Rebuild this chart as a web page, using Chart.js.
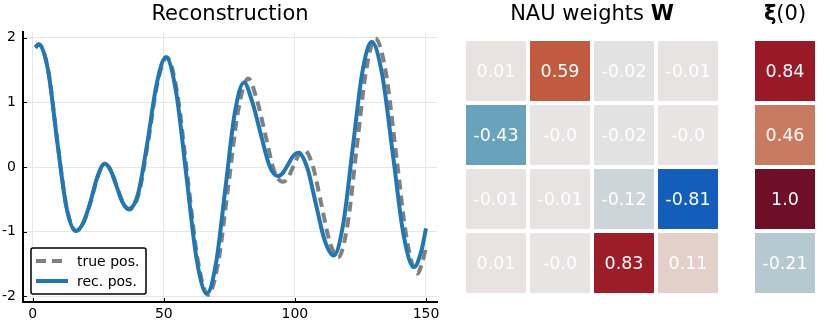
<!DOCTYPE html>
<html>
<head>
<meta charset="utf-8">
<script src="https://cdn.jsdelivr.net/npm/chart.js@4/dist/chart.umd.min.js"></script>
<style>
  body { margin: 0; background: #fff; font-family: "DejaVu Sans", sans-serif; }
  #wrap { position: relative; width: 830px; height: 324px; overflow: hidden; }
  canvas { position: absolute; top: 0; }
  .ttl { position: absolute; top: 1px; height: 24px; line-height: 24px; font-size: 21px; text-align: center; color: #000; }
</style>
</head>
<body>
<div id="wrap">
  <canvas id="recChart" width="450" height="324" style="left:0"></canvas>
  <canvas id="wChart" width="300" height="324" style="left:440px"></canvas>
  <canvas id="xiChart" width="90" height="324" style="left:740px"></canvas>
  <div class="ttl" style="left:0;width:460px">Reconstruction</div>
  <div class="ttl" style="left:492px;width:200px">NAU weights <b>W</b></div>
  <div class="ttl" style="left:735px;width:100px"><b>ξ</b>(0)</div>
</div>
<script>
// valeurs (extrema + points intermediaires)
const recT = [1, 2.3, 5.85, 9.4, 12.95, 16.5, 19.2, 21.95, 24.7, 27.4, 29.7, 32, 34.3, 36.6, 40.15, 43.7, 47.25, 50.8, 54.7, 58.6, 62.5, 66.4, 69.95, 73.5, 77.05, 80.6, 83.8, 87.05, 90.3, 93.5, 95.45, 97.4, 99.35, 101.3, 104.7, 108.05, 111.4, 114.8, 118.4, 122.05, 125.7, 129.3, 133.3, 137.35, 141.4, 145.4, 148.3, 150];
const recPos = [1.85, 1.90, 1.50, 0.38, -0.64, -0.99, -0.87, -0.55, -0.15, 0.05, -0.05, -0.30, -0.55, -0.65, -0.42, 0.37, 1.28, 1.70, 1.16, -0.13, -1.42, -1.96, -1.48, -0.33, 0.83, 1.31, 1.00, 0.50, 0.02, -0.14, -0.09, 0.04, 0.17, 0.22, -0.01, -0.58, -1.14, -1.37, -0.89, 0.29, 1.46, 1.94, 1.43, 0.20, -1.04, -1.55, -1.29, -0.95];

const trueT = [1, 2.3, 5.9, 9.45, 13, 16.6, 19.3, 22.05, 24.8, 27.5, 29.8, 32.15, 34.5, 36.8, 40.4, 43.95, 47.5, 51.1, 55.05, 59, 62.95, 66.9, 70.7, 74.55, 78.4, 82.2, 85.5, 88.8, 92.1, 95.4, 97.45, 99.5, 101.55, 103.6, 106.8, 110.05, 113.3, 116.5, 120.05, 123.6, 127.15, 130.7, 134.7, 138.7, 142.7, 146.7, 148.4, 150];
const truePos = [1.85, 1.90, 1.50, 0.38, -0.64, -0.99, -0.87, -0.55, -0.15, 0.05, -0.05, -0.31, -0.56, -0.66, -0.42, 0.37, 1.28, 1.70, 1.16, -0.14, -1.44, -1.98, -1.49, -0.31, 0.88, 1.37, 1.04, 0.49, -0.06, -0.23, -0.16, 0.02, 0.19, 0.26, 0.02, -0.57, -1.16, -1.40, -0.90, 0.30, 1.49, 1.99, 1.46, 0.17, -1.12, -1.65, -1.50, -1.25];

const xTicks = [0, 50, 100, 150];
const yTicks = [-2, -1, 0, 1, 2];

const wCols = ['1', '2', '3', '4'];
const nauW = [
    [0.01, 0.59, -0.02, -0.01],
    [-0.43, -0.0, -0.02, -0.0],
    [-0.01, -0.01, -0.12, -0.81],
    [0.01, -0.0, 0.83, 0.11]
];
const xi0 = [0.84, 0.46, 1.0, -0.21];

const FONT = '"DejaVu Sans", sans-serif';

// palette divergente (approx. balance)
const cmapStops = [
    [-1.0, [26, 48, 140]], [-0.81, [19, 93, 187]], [-0.43, [104, 163, 187]],
    [-0.21, [181, 201, 208]], [-0.12, [204, 213, 218]], [0.0, [232, 228, 227]],
    [0.11, [227, 208, 201]], [0.46, [201, 123, 97]], [0.59, [192, 91, 64]],
    [0.84, [154, 25, 38]], [1.0, [111, 14, 39]]
];

function cmap(v) {
    for (let i = 1; i < cmapStops.length; i++) {
        const [v1, c1] = cmapStops[i];
        const [v0, c0] = cmapStops[i - 1];
        if (v <= v1) {
            const t = (v - v0) / (v1 - v0);
            const c = c0.map((a, k) => Math.round(a + (c1[k] - a) * t));
            return `rgb(${c[0]},${c[1]},${c[2]})`;
        }
    }
    const c = cmapStops[cmapStops.length - 1][1];
    return `rgb(${c[0]},${c[1]},${c[2]})`;
}

function fmt(v) {
    if (Object.is(v, -0)) return '-0.0';
    return Number.isInteger(v) ? v.toFixed(1) : String(v);
}

// petits traits de graduation vers l'interieur + legende
const innerTicks = {
    id: 'innerTicks',
    afterDraw(chart) {
        const ctx = chart.ctx, a = chart.chartArea;
        const xs = chart.scales.x, ys = chart.scales.y;
        ctx.save();
        ctx.strokeStyle = '#000';
        ctx.lineWidth = 1;
        ctx.beginPath();
        xTicks.forEach(t => {
            const px = Math.round(xs.getPixelForValue(t)) + 0.5;
            ctx.moveTo(px, a.bottom); ctx.lineTo(px, a.bottom - 4);
        });
        yTicks.forEach(t => {
            const py = Math.round(ys.getPixelForValue(t)) + 0.5;
            ctx.moveTo(a.left, py); ctx.lineTo(a.left + 4, py);
        });
        ctx.stroke();

        // legende
        const bx = a.left + 8, by = a.bottom - 54, bw = 115, bh = 46;
        ctx.fillStyle = '#fff';
        ctx.strokeStyle = '#000';
        ctx.lineWidth = 1.5;
        ctx.beginPath();
        ctx.roundRect(bx, by, bw, bh, 2);
        ctx.fill();
        ctx.stroke();
        ctx.font = '14px ' + FONT;
        ctx.textBaseline = 'middle';
        chart.data.datasets.forEach((ds, i) => {
            const ly = by + 13 + i * 20;
            ctx.strokeStyle = ds.borderColor;
            ctx.lineWidth = ds.borderWidth;
            ctx.setLineDash(ds.borderDash || []);
            ctx.beginPath();
            ctx.moveTo(bx + 5, ly); ctx.lineTo(bx + 37, ly);
            ctx.stroke();
            ctx.setLineDash([]);
            ctx.fillStyle = '#000';
            ctx.fillText(ds.label, bx + 46, ly + 1);
        });
        ctx.restore();
    }
};

const cellText = {
    id: 'cellText',
    afterDatasetsDraw(chart) {
        const ctx = chart.ctx;
        ctx.save();
        ctx.fillStyle = '#fff';
        ctx.font = '17.5px ' + FONT;
        ctx.textAlign = 'center';
        ctx.textBaseline = 'middle';
        chart.data.datasets.forEach((ds, i) => {
            chart.getDatasetMeta(i).data.forEach((bar, j) => {
                ctx.fillText(fmt(ds.values[j]), bar.x, (bar.y + bar.base) / 2 + 1);
            });
        });
        ctx.restore();
    }
};

Chart.defaults.font.family = FONT;
Chart.defaults.color = '#000';

new Chart(document.getElementById('recChart'), {
    type: 'scatter',
    data: {
        datasets: [
            {
                label: 'true pos.',
                data: trueT.map((t, i) => ({ x: t, y: truePos[i] })),
                showLine: true,
                borderColor: '#808080',
                borderWidth: 4,
                borderDash: [10, 6],
                pointRadius: 0,
                cubicInterpolationMode: 'monotone',
                order: 1
            },
            {
                label: 'rec. pos.',
                data: recT.map((t, i) => ({ x: t, y: recPos[i] })),
                showLine: true,
                borderColor: '#1f77b4',
                borderWidth: 4,
                pointRadius: 0,
                cubicInterpolationMode: 'monotone',
                order: 0
            }
        ]
    },
    options: {
        responsive: false,
        animation: false,
        events: [],
        layout: { padding: { top: 32, right: 13, left: 0, bottom: 0 } },
        plugins: { legend: { display: false }, tooltip: { enabled: false } },
        scales: {
            x: {
                type: 'linear',
                min: -3.7, max: 154.2,
                afterBuildTicks: s => { s.ticks = xTicks.map(v => ({ value: v })); },
                afterFit: s => { s.height = 22; },
                ticks: { padding: 4, font: { size: 14 }, maxRotation: 0 },
                grid: { color: '#e6e6e6', lineWidth: 1, drawTicks: false },
                border: { color: '#000', width: 2 }
            },
            y: {
                type: 'linear',
                min: -2.09, max: 2.09,
                afterBuildTicks: s => { s.ticks = yTicks.map(v => ({ value: v })); },
                afterFit: s => { s.width = 23; },
                ticks: { padding: 7, font: { size: 14 } },
                grid: { color: '#e6e6e6', lineWidth: 1, drawTicks: false },
                border: { color: '#000', width: 2 }
            }
        }
    },
    plugins: [innerTicks]
});

const gap = 2 / 64;

function heatOptions(pad) {
    return {
        responsive: false,
        animation: false,
        events: [],
        layout: { padding: pad },
        plugins: { legend: { display: false }, tooltip: { enabled: false } },
        datasets: { bar: { grouped: false, barPercentage: 1, categoryPercentage: 60 / 64, borderWidth: 0 } },
        scales: {
            x: { display: false },
            y: { display: false, min: 0.5, max: 4.5, reverse: true }
        }
    };
}

new Chart(document.getElementById('wChart'), {
    type: 'bar',
    data: {
        labels: wCols,
        datasets: nauW.map((row, r) => ({
            data: row.map(() => [r + 0.5 + gap, r + 1.5 - gap]),
            values: row,
            backgroundColor: row.map(cmap)
        }))
    },
    options: heatOptions({ top: 39, bottom: 29, left: 24, right: 20 }),
    plugins: [cellText]
});

new Chart(document.getElementById('xiChart'), {
    type: 'bar',
    data: {
        labels: ['1'],
        datasets: xi0.map((v, r) => ({
            data: [[r + 0.5 + gap, r + 1.5 - gap]],
            values: [v],
            backgroundColor: [cmap(v)]
        }))
    },
    options: heatOptions({ top: 39, bottom: 29, left: 13, right: 13 }),
    plugins: [cellText]
});
</script>
</body>
</html>
